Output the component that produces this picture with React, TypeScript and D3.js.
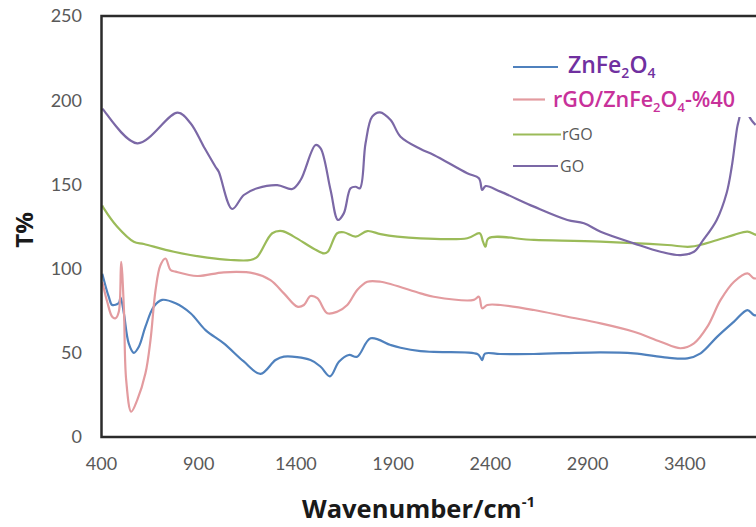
import React from "react";
import * as d3 from "d3";

const xTicks = [400, 900, 1400, 1900, 2400, 2900, 3400];
const yTicks = [0, 50, 100, 150, 200, 250];

const seriesNames = ["ZnFe2O4", "rGO/ZnFe2O4-%40", "rGO", "GO"];

const znfeWave = [404, 438, 455, 489, 498, 515, 540, 566, 592, 626, 669, 712, 781, 858, 935, 1029, 1130, 1218, 1295, 1338, 1475, 1527, 1575, 1621, 1672, 1715, 1784, 1887, 1938, 2041, 2109, 2333, 2350, 2358, 2372, 2450, 2624, 2967, 3138, 3310, 3413, 3481, 3567, 3653, 3722, 3756, 3800];
const znfeT = [97, 83, 78.4, 79.6, 83, 73.5, 55.6, 50, 53.6, 65.5, 77.4, 81.4, 79.4, 73.5, 63.5, 55.6, 45, 37.5, 45.7, 47.7, 45.7, 41.7, 36, 44.7, 48.7, 47.7, 58.6, 54.6, 53, 51, 50.5, 49.3, 47, 45.7, 49.5, 49.3, 49.3, 50.3, 49.7, 47.1, 46.7, 49.7, 59.6, 68.5, 75.4, 72.4, 73];

const compWave = [404, 430, 455, 472, 489, 501, 515, 527, 553, 584, 626, 652, 678, 703, 729, 755, 781, 892, 1029, 1183, 1269, 1338, 1407, 1441, 1475, 1510, 1561, 1612, 1664, 1715, 1767, 1835, 2041, 2109, 2315, 2341, 2358, 2384, 2452, 2624, 2796, 2967, 3138, 3275, 3378, 3447, 3516, 3584, 3653, 3722, 3756, 3800];
const compT = [92, 80, 71.4, 70.5, 74.4, 104, 77, 33.8, 15, 22, 37.8, 57.6, 87.3, 102, 106, 99.2, 98.2, 95.6, 97.8, 97.2, 93.2, 85.3, 77.4, 78.4, 83.7, 82.4, 73.5, 74.4, 78.4, 87.3, 92.2, 92.2, 85.3, 83.3, 81.4, 83.3, 76.4, 78.4, 78.4, 75.4, 71.4, 67.5, 62.5, 56.6, 52.7, 55.6, 65.5, 81.4, 92.2, 97.2, 94.2, 95];

const rgoWave = [404, 412, 481, 566, 618, 772, 944, 1064, 1166, 1201, 1278, 1330, 1389, 1544, 1564, 1612, 1646, 1707, 1767, 1835, 1921, 2041, 2281, 2345, 2362, 2375, 2390, 2624, 2967, 3310, 3430, 3567, 3653, 3722, 3769, 3800];
const rgoT = [137.5, 135.8, 124.9, 116, 114.6, 110, 106.5, 105.1, 105.1, 107, 121, 122.3, 119, 109, 110, 121, 121.6, 119, 122.3, 120.5, 119, 118, 118, 121, 116, 113, 118, 117, 116, 114, 113, 117, 120, 122, 120, 120];

const goWave = [404, 410, 584, 792, 858, 926, 986, 1003, 1072, 1132, 1201, 1304, 1381, 1424, 1501, 1527, 1578, 1616, 1646, 1681, 1707, 1729, 1758, 1792, 1832, 1887, 1938, 2041, 2109, 2281, 2341, 2358, 2375, 2452, 2624, 2796, 2881, 2967, 3138, 3275, 3378, 3447, 3495, 3564, 3615, 3641, 3658, 3670, 3680, 3698, 3716, 3732, 3764];
const goT = [195, 194.2, 174.4, 192.6, 186.3, 172.4, 160.5, 157.5, 135.4, 143.7, 147.7, 149.6, 147.3, 152.6, 173.4, 171.4, 146.7, 128.9, 132.8, 147.7, 148.6, 147.7, 174.4, 190.2, 192.8, 188.2, 178.3, 171, 167.5, 156.6, 153.6, 146.7, 149, 145.7, 136.8, 128.9, 126.9, 121.9, 115, 110, 108, 110, 117, 128.9, 144.9, 160.3, 174.6, 184.3, 189.3, 200, 199, 190.2, 185.3];

const colors = ["#4F81BD", "#E39B9F", "#9BBB59", "#7B68A6"];

export default function App() {
  const W = 756;
  const H = 527;
  const x = d3.scaleLinear().domain([400, 4000]).range([101.5, 801.5]);
  const y = d3.scaleLinear().domain([0, 250]).range([437, 16]);
  const line = d3
    .line<[number, number]>()
    .x((d) => x(d[0]))
    .y((d) => y(d[1]))
    .curve(d3.curveCatmullRom.alpha(0.5));

  const series = [
    { wave: znfeWave, t: znfeT },
    { wave: compWave, t: compT },
    { wave: rgoWave, t: rgoT },
    { wave: goWave, t: goT },
  ];

  const tickFont = "Lato, 'Open Sans', sans-serif";
  const titleFont = "'Open Sans', sans-serif";

  return (
    <svg
      width={W}
      height={H}
      style={{ position: "absolute", left: 0, top: 0, background: "#fff" }}
    >
      <defs>
        <clipPath id="plotClip">
          <rect x={101.5} y={16} width={W - 101.5} height={421} />
        </clipPath>
      </defs>
      <rect x={0} y={0} width={W} height={H} fill="#fff" />
      <g clipPath="url(#plotClip)">
        {series.map((s, i) => (
          <path
            key={seriesNames[i]}
            d={line(s.wave.map((w, k) => [w, s.t[k]] as [number, number])) || ""}
            fill="none"
            stroke={colors[i]}
            strokeWidth={2.2}
            strokeLinejoin="round"
          />
        ))}
      </g>
      {/* frame */}
      <rect
        x={x(400)}
        y={y(250)}
        width={x(4000) - x(400)}
        height={y(0) - y(250)}
        fill="none"
        stroke="#2b2b2b"
        strokeWidth={2.5}
      />
      {/* y tick labels */}
      {yTicks.map((t) => (
        <text
          key={"y" + t}
          x={82}
          y={y(t)}
          dy="0.35em"
          textAnchor="end"
          fontFamily={tickFont}
          fontSize={18}
          fill="#595959"
        >
          {t}
        </text>
      ))}
      {/* x tick labels */}
      {xTicks.map((t) => (
        <text
          key={"x" + t}
          x={x(t)}
          y={470}
          textAnchor="middle"
          fontFamily={tickFont}
          fontSize={18}
          fill="#595959"
        >
          {t}
        </text>
      ))}
      {/* axis titles */}
      <text x={302} y={518} fontFamily={titleFont} fontWeight="bold" fontSize={25.5} fill="#1a1a1a">
        Wavenumber/cm
        <tspan fontSize={15} dy={-11}>-1</tspan>
      </text>
      <text
        transform="translate(33,230) rotate(-90)"
        textAnchor="middle"
        fontFamily={titleFont}
        fontWeight="bold"
        fontSize={24}
        fill="#1a1a1a"
      >
        T%
      </text>
      {/* legend */}
      <rect x={548} y={78} width={W - 548} height={39} fill="#fff" />
      <line x1={513} x2={558} y1={67} y2={67} stroke={colors[0]} strokeWidth={2.2} />
      <text x={568} y={73} fontFamily={titleFont} fontWeight={600} fontSize={23} fill="#7030A0">
        ZnFe<tspan fontSize={14} dy={5}>2</tspan>
        <tspan dy={-5}>O</tspan>
        <tspan fontSize={14} dy={5}>4</tspan>
      </text>
      <line x1={513} x2={545} y1={99.5} y2={99.5} stroke={colors[1]} strokeWidth={2.2} />
      <text x={553} y={107} fontFamily={titleFont} fontWeight={600} fontSize={21.5} fill="#C8319A">
        rGO/ZnFe<tspan fontSize={13} dy={5}>2</tspan>
        <tspan dy={-5}>O</tspan>
        <tspan fontSize={13} dy={5}>4</tspan>
        <tspan dy={-5}>-%40</tspan>
      </text>
      <line x1={513} x2={561} y1={134.5} y2={134.5} stroke={colors[2]} strokeWidth={2.2} />
      <text x={562} y={134.5} dy="0.35em" fontFamily={titleFont} fontSize={16} fill="#595959">
        rGO
      </text>
      <line x1={513} x2={558} y1={166} y2={166} stroke={colors[3]} strokeWidth={2.2} />
      <text x={560} y={166} dy="0.35em" fontFamily={titleFont} fontSize={16} fill="#595959">
        GO
      </text>
    </svg>
  );
}
